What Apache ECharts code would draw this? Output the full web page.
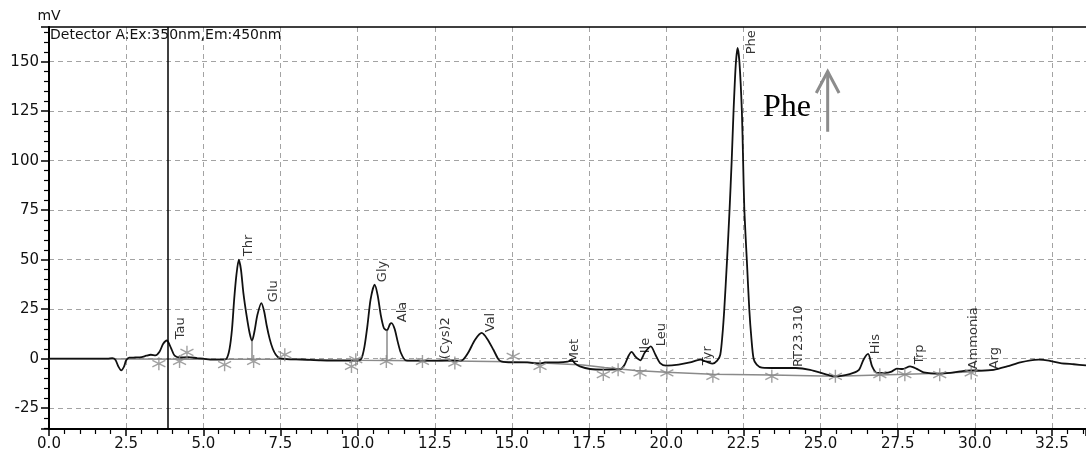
<!DOCTYPE html>
<html>
<head>
<meta charset="utf-8">
<script src="https://cdn.jsdelivr.net/npm/echarts@6.0.0/dist/echarts.min.js"></script>
<style>
  html, body { margin: 0; padding: 0; background: #fff; }
  #chart { width: 1086px; height: 453px; }
</style>
</head>
<body>
<div id="chart"></div>
<script>
// chromatogram trace (min, mV)
const rt = [0.0, 1.9, 2.05, 2.15, 2.25, 2.34, 2.43, 2.5, 2.6, 2.8, 3.0, 3.15, 3.3, 3.45, 3.58, 3.7, 3.82, 3.95, 4.07, 4.25, 4.5, 4.8, 5.0, 5.3, 5.6,
  5.75, 5.85, 5.93, 6.0, 6.07, 6.15, 6.22, 6.3, 6.4, 6.5, 6.58, 6.66, 6.75, 6.88, 6.97, 7.05, 7.15, 7.25, 7.35, 7.47, 7.7, 8.2, 8.8, 9.5,
  10.0, 10.12, 10.22, 10.32, 10.42, 10.55, 10.65, 10.75, 10.85, 10.95, 11.05, 11.1, 11.2, 11.3, 11.4, 11.56, 12.0, 12.5, 12.9, 13.3,
  13.42, 13.6, 13.8, 14.02, 14.2, 14.4, 14.55, 14.65, 15.0, 15.5, 15.9, 16.07, 16.5, 16.8, 16.93, 17.05, 17.2, 17.53, 18.0, 18.5,
  18.65, 18.78, 18.88, 19.0, 19.16, 19.3, 19.5, 19.65, 19.8, 20.0, 20.4, 20.77, 21.1, 21.3, 21.5, 21.65, 21.75, 21.82, 21.88, 21.97,
  22.05, 22.12, 22.18, 22.25, 22.31, 22.37, 22.45, 22.49, 22.53, 22.61, 22.69, 22.76, 22.83, 22.93, 23.1, 23.6, 24.2, 24.66, 25.2,
  25.47, 25.8, 26.06, 26.25, 26.39, 26.54, 26.67, 26.83, 27.1, 27.3, 27.47, 27.65, 27.9, 28.1, 28.34, 28.88, 29.2, 29.53, 29.86,
  30.2, 30.61, 31.04, 31.47, 31.8, 32.07, 32.4, 32.77, 33.2, 33.6];
const mv = [0, 0, 0.3, -0.5, -4, -5.9, -4, -0.8, 0.5, 0.6, 0.8, 1.5, 2, 1.7, 3.5, 7.5, 9.2, 5.5, 1.5, 0.6, 0.8, 0.3, 0, -0.5, -0.5,
  0, 5, 15, 30, 42, 50, 45, 33, 22, 13, 9.1, 14, 22, 28.1, 24, 17, 10, 5, 2, 0.3, -0.2, -0.4, -0.8, -1,
  -1, 0, 6, 17, 30, 37.4, 32, 22, 15.5, 14.3, 17.5, 18, 15, 8.5, 3, -0.8, -1, -1, -0.8, -1,
  -0.5, 3.5, 9.5, 13, 10, 4.5, 0, -1.4, -1.9, -1.9, -2.5, -1.9, -1.9, -1.5, -0.5, -2.5, -3.9, -5.2, -5.5, -5.3,
  -3, 1.5, 3.4, 1, -0.8, 3, 6.2, 2, -2.2, -3.5, -3, -1.9, -0.5, -1.5, -2.5, -1, 2, 12, 25, 50,
  75, 100, 125, 148, 156.9, 150, 125, 100, 75, 50, 25, 10, 0, -3, -4.5, -4.7, -4.7, -5.6, -8,
  -8.9, -8.3, -7.2, -5.5, -0.5, 2.4, -3.9, -7.2, -7.2, -6.5, -5, -5.2, -3.9, -5, -6.9, -7.6, -7.2, -6.4, -5.9,
  -6, -5.6, -3.9, -1.9, -0.8, -0.5, -1, -2.2, -2.8, -3.4];

// integration baseline
const baseRt = [0, 5.0, 7.6, 10.0, 13.0, 15.0, 16.0, 17.3, 18.0, 19.0, 20.0, 21.5, 23.4, 25.5, 26.9, 28.9, 29.9, 30.6];
const baseMv = [0, -0.3, -0.3, -0.8, -1.2, -1.5, -2.2, -3.2, -4.5, -6, -6.8, -7.8, -8.2, -8.8, -8.2, -7.4, -6.6, -5.6];

// peak start / end marks
const markRt = [3.56, 4.23, 4.47, 5.69, 6.63, 7.64, 9.8, 9.94, 10.93, 12.1, 13.15, 15.04, 15.91, 17.96, 18.44, 19.15, 20.02,
  21.51, 23.42, 25.48, 26.92, 27.73, 28.86, 29.88];
const markMv = [-2.5, -1.4, 3.2, -3, -1.4, 2, -3.9, -0.5, -1.4, -1.4, -2.2, 1.2, -3.9, -8, -5.6, -7.2, -7.2,
  -8.9, -8.9, -8.9, -8.1, -8.1, -8.1, -7.2];

// drop lines at valleys
const dropRt = [6.58, 10.95];
const dropLow = [-0.3, -0.9];
const dropHigh = [9.1, 14.3];

// peak names and where their labels start
const peakNames = ['Tau', 'Thr', 'Glu', 'Gly', 'Ala', '(Cys)2', 'Val', 'Met', 'Ile', 'Leu', 'Tyr', 'Phe', 'RT23.310', 'His', 'Trp', 'Ammonia', 'Arg'];
const labelRt = [4.07, 6.27, 7.08, 10.62, 11.27, 12.66, 14.12, 16.85, 19.15, 19.64, 21.13, 22.56, 24.11, 26.58, 28.0, 29.76, 30.44];
const labelMv = [9.6, 51.5, 28.3, 38.4, 18.2, -0.5, 13.1, -2.5, 2.5, 6, -3.5, 153.5, -4.5, 2, -3, -5.6, -5.6];

const cursorRt = 3.84;

// annotation: "Phe" with arrow
const noteText = 'Phe';
const noteAt = [23.91, 126.6];
const arrowRt = 25.23;
const arrowFrom = 114.6;
const arrowTo = 145;
const arrowHead = 134.2;
const arrowHalf = 0.37;

const chart = echarts.init(document.getElementById('chart'));

const gridDash = { color: '#a3a3a3', width: 1, type: [5, 4] };

const option = {
  animation: false,
  backgroundColor: '#fff',
  textStyle: { fontFamily: 'DejaVu Sans' },
  title: {
    text: 'Detector A:Ex:350nm,Em:450nm',
    left: 50,
    top: 28,
    padding: 0,
    textStyle: { fontFamily: 'DejaVu Sans', fontSize: 14, fontWeight: 'normal', color: '#111' }
  },
  grid: { left: 49, right: 0, top: 27, bottom: 24 },
  xAxis: [{
    type: 'value',
    min: 0,
    max: 33.6,
    interval: 2.5,
    axisLine: { show: true, onZero: false, lineStyle: { color: '#000', width: 2 } },
    axisTick: { show: true, length: 7, lineStyle: { color: '#000', width: 1.5 } },
    minorTick: { show: true, splitNumber: 5, length: 5, lineStyle: { color: '#000', width: 1.2 } },
    axisLabel: {
      margin: 8, color: '#111', fontSize: 15, showMaxLabel: false,
      formatter: (v) => v.toFixed(1)
    },
    splitLine: { show: true, showMinLine: false, showMaxLine: false, lineStyle: gridDash }
  }, {
    type: 'value',
    position: 'top',
    min: 0,
    max: 33.6,
    axisLine: { show: true, onZero: false, lineStyle: { color: '#000', width: 1.5 } },
    axisTick: { show: false },
    axisLabel: { show: false },
    splitLine: { show: false }
  }],
  yAxis: {
    type: 'value',
    min: -35.5,
    max: 167.5,
    minInterval: 25,
    maxInterval: 25,
    splitNumber: 8,
    name: 'mV',
    nameGap: 4,
    nameTextStyle: { color: '#111', fontSize: 14, fontFamily: 'DejaVu Sans' },
    axisLine: { show: true, onZero: false, lineStyle: { color: '#000', width: 2 } },
    axisTick: { show: true, length: 8, lineStyle: { color: '#000', width: 1.5 } },
    minorTick: { show: true, splitNumber: 5, length: 5, lineStyle: { color: '#000', width: 1.2 } },
    axisLabel: { margin: 10, color: '#111', fontSize: 15, showMinLabel: false, showMaxLabel: false },
    splitLine: { show: true, showMinLine: false, showMaxLine: false, lineStyle: gridDash }
  },
  series: [
    {
      name: 'baseline',
      type: 'line',
      data: baseRt.map((t, i) => [t, baseMv[i]]),
      symbol: 'none',
      lineStyle: { color: '#8a8a8a', width: 1.5 },
      z: 2,
      markLine: {
        silent: true,
        symbol: ['none', 'none'],
        label: { show: false },
        lineStyle: { color: '#8a8a8a', width: 1.5, type: 'solid' },
        data: dropRt.map((t, i) => [{ coord: [t, dropLow[i]] }, { coord: [t, dropHigh[i]] }])
      }
    },
    {
      name: 'marks',
      type: 'scatter',
      data: markRt.map((t, i) => [t, markMv[i]]),
      symbol: 'path://M5,0L5,10M0.7,2.5L9.3,7.5M0.7,7.5L9.3,2.5',
      symbolSize: 13,
      itemStyle: { color: 'transparent', borderColor: '#8a8a8a', borderWidth: 1.4 },
      z: 4
    },
    {
      name: 'trace',
      type: 'line',
      data: rt.map((t, i) => [t, mv[i]]),
      symbol: 'none',
      smooth: 0.25,
      lineStyle: { color: '#111', width: 1.8 },
      z: 3,
      markLine: {
        silent: true,
        symbol: ['none', 'none'],
        label: { show: false },
        lineStyle: { color: '#000', width: 1.5, type: 'solid' },
        data: [{ xAxis: cursorRt }]
      }
    },
    {
      name: 'labels',
      type: 'scatter',
      data: labelRt.map((t, i) => [t, labelMv[i]]),
      symbolSize: 1,
      itemStyle: { color: 'transparent' },
      z: 5,
      label: {
        show: true,
        position: [0, 0],
        rotate: 90,
        align: 'left',
        verticalAlign: 'top',
        color: '#000',
        fontSize: 13,
        fontFamily: 'DejaVu Sans',
        formatter: (p) => peakNames[p.dataIndex]
      }
    }
  ]
};

chart.setOption(option);

const toPx = (t, v) => chart.convertToPixel({ gridIndex: 0 }, [t, v]);
const textPos = toPx(noteAt[0], noteAt[1]);
const tip = toPx(arrowRt, arrowTo);
const tail = toPx(arrowRt, arrowFrom);
const headL = toPx(arrowRt - arrowHalf, arrowHead);
const headR = toPx(arrowRt + arrowHalf, arrowHead);

chart.setOption({
  graphic: [
    {
      type: 'text',
      x: textPos[0],
      y: textPos[1],
      style: {
        text: noteText,
        fontFamily: 'Liberation Serif',
        fontSize: 32,
        fill: '#000',
        align: 'center',
        verticalAlign: 'middle'
      },
      z: 10
    },
    {
      type: 'polyline',
      shape: { points: [tail, tip] },
      style: { stroke: '#8c8c8c', lineWidth: 3, fill: null },
      z: 10
    },
    {
      type: 'polyline',
      shape: { points: [headL, tip, headR] },
      style: { stroke: '#8c8c8c', lineWidth: 3, fill: null },
      z: 10
    }
  ]
});
</script>
</body>
</html>
